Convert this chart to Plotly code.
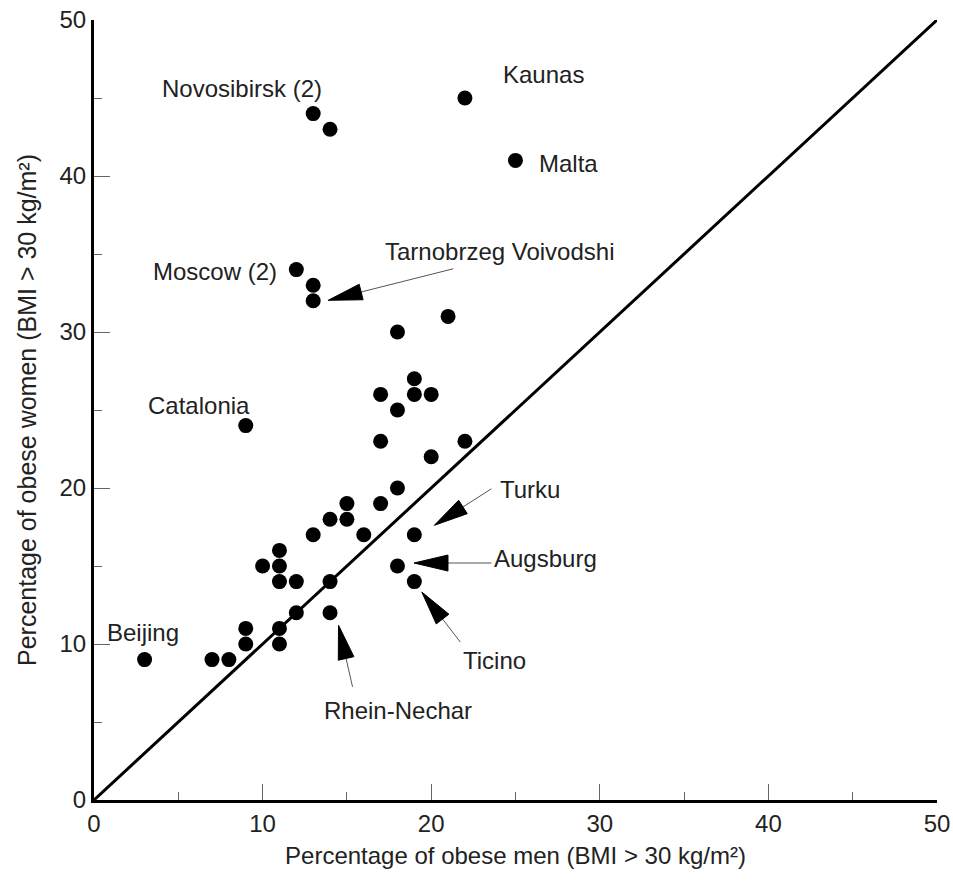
import plotly.graph_objects as go

# ---- data (percentage obese men, percentage obese women) ----
men = [3, 7, 8, 9, 9, 10, 11, 11, 11, 11, 11, 12, 12, 13, 14, 14, 14, 15, 15, 16,
       17, 17, 17, 18, 18, 18, 18, 19, 19, 19, 19, 20, 20, 21, 22,
       9, 12, 13, 13, 13, 14, 22, 25]
women = [9, 9, 9, 10, 11, 15, 16, 15, 14, 11, 10, 14, 12, 17, 18, 14, 12, 19, 18, 17,
         19, 23, 26, 20, 25, 15, 30, 27, 26, 17, 14, 26, 22, 31, 23,
         24, 34, 33, 32, 44, 43, 45, 41]

# labels without arrows
plain_labels = ["Novosibirsk (2)", "Kaunas", "Malta", "Moscow (2)", "Catalonia", "Beijing"]
plain_x = [3.9, 24.15, 26.25, 3.4, 3.1, 0.65]
plain_y = [45.6, 46.5, 40.8, 33.9, 25.3, 10.75]

# labels with arrows
arrow_labels = ["Tarnobrzeg Voivodshi", "Turku", "Augsburg", "Ticino", "Rhein-Nechar"]
arrow_label_x = [17.15, 23.95, 23.6, 21.75, 13.55]
arrow_label_y = [35.15, 19.9, 15.5, 8.95, 5.75]
arrow_target_x = [13, 19, 18, 19, 14]
arrow_target_y = [32, 17, 15, 14, 12]
# pixel offsets (screen, y down) of tip and tail relative to the target point
tip_off = [(15, -0.5), (20, -9.5), (16.5, -3), (7.5, 10.5), (8.5, 12.5)]
tail_off = [(140, -32), (77, -46), (94, -3), (46, 60.5), (22.5, 74)]

x_ticks = [0, 10, 20, 30, 40, 50]
y_ticks = [0, 10, 20, 30, 40, 50]

FONT = "Liberation Sans, Arial, sans-serif"

fig = go.Figure()

# identity line
fig.add_trace(go.Scatter(x=[0, 50], y=[0, 50], mode="lines",
                         line=dict(color="black", width=3), hoverinfo="skip",
                         cliponaxis=False))

fig.add_trace(go.Scatter(x=men, y=women, mode="markers",
                         marker=dict(color="black", size=15, line=dict(width=0))))

annotations = []
for t, x, y in zip(plain_labels + arrow_labels, plain_x + arrow_label_x, plain_y + arrow_label_y):
    annotations.append(dict(x=x, y=y, xref="x", yref="y", text=t, showarrow=False,
                            xanchor="left", yanchor="middle",
                            font=dict(family=FONT, size=24, color="#222")))

shapes = []
HEAD_LEN = 34
HEAD_HW = 8
for tx, ty, tip, tail in zip(arrow_target_x, arrow_target_y, tip_off, tail_off):
    # convert to pixel-mode coordinates (y up)
    px_tip = (tip[0], -tip[1])
    px_tail = (tail[0], -tail[1])
    dx = px_tip[0] - px_tail[0]
    dy = px_tip[1] - px_tail[1]
    L = (dx * dx + dy * dy) ** 0.5
    ux, uy = dx / L, dy / L
    bx, by = px_tip[0] - ux * HEAD_LEN, px_tip[1] - uy * HEAD_LEN
    nx, ny = -uy, ux
    shapes.append(dict(type="path", xref="x", yref="y", xsizemode="pixel", ysizemode="pixel",
                       xanchor=tx, yanchor=ty,
                       path=f"M{px_tail[0]:.2f},{px_tail[1]:.2f} L{bx:.2f},{by:.2f}",
                       line=dict(color="#555", width=1)))
    shapes.append(dict(type="path", xref="x", yref="y", xsizemode="pixel", ysizemode="pixel",
                       xanchor=tx, yanchor=ty,
                       path=(f"M{px_tip[0]:.2f},{px_tip[1]:.2f} "
                             f"L{bx + nx * HEAD_HW:.2f},{by + ny * HEAD_HW:.2f} "
                             f"L{bx - nx * HEAD_HW:.2f},{by - ny * HEAD_HW:.2f} Z"),
                       fillcolor="black", line=dict(color="black", width=1)))

axis_common = dict(
    range=[0, 50], showgrid=False, zeroline=False, automargin=False,
    ticklabeloverflow="allow",
    showline=True, linecolor="black", linewidth=3,
    ticks="inside", ticklen=16, tickwidth=1, tickcolor="#666",
    minor=dict(ticks="inside", ticklen=8, tickwidth=1, tickcolor="#666", dtick=5, showgrid=False),
    tickfont=dict(family=FONT, size=24, color="#222"),
)

fig.update_layout(
    width=953, height=881,
    margin=dict(l=94, r=16, t=20, b=81),
    plot_bgcolor="white", paper_bgcolor="white",
    showlegend=False,
    annotations=annotations,
    shapes=shapes,
    xaxis=dict(**axis_common, tickvals=x_ticks, ticktext=[str(v) for v in x_ticks],
               title=dict(text="Percentage of obese men (BMI > 30 kg/m²)",
                          font=dict(family=FONT, size=24, color="#222"), standoff=12)),
    yaxis=dict(**axis_common, tickvals=y_ticks, ticktext=[str(v) for v in y_ticks],
               title=dict(text="Percentage of obese women (BMI > 30 kg/m²)",
                          font=dict(family=FONT, size=25, color="#222"), standoff=16)),
)

# remove the browser's default 8px body margin so the figure fills the window exactly
fig.write_html("out.html",
               config={"displayModeBar": False},
               post_script="document.body.style.margin='0';document.body.style.overflow='hidden';")
